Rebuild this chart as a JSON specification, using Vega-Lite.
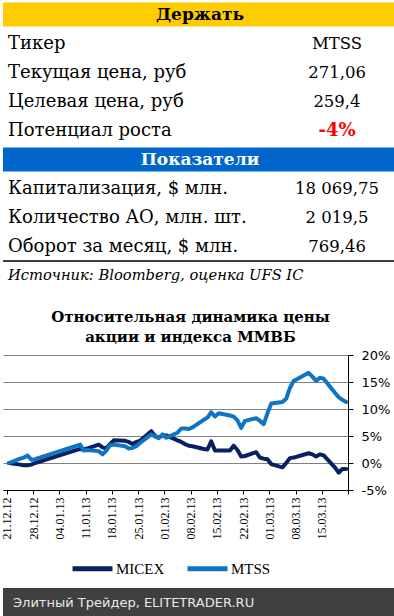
{
  "$schema": "https://vega.github.io/schema/vega-lite/v6.json",
  "padding": 0,
  "spacing": 9,
  "autosize": {"type": "pad"},
  "background": "white",
  "config": {"view": {"stroke": null}},
  "resolve": {"scale": {"color": "independent", "x": "independent", "y": "independent"}, "legend": {"color": "independent"}},
  "datasets": {
    "table": [
      {"row": 0, "label": "Держать", "kind": "header"},
      {"row": 1, "label": "Тикер", "value": "MTSS", "kind": "item"},
      {"row": 2, "label": "Текущая цена, руб", "value": "271,06", "kind": "item"},
      {"row": 3, "label": "Целевая цена, руб", "value": "259,4", "kind": "item"},
      {"row": 4, "label": "Потенциал роста", "value": "-4%", "kind": "item"},
      {"row": 5, "label": "Показатели", "kind": "header"},
      {"row": 6, "label": "Капитализация, $ млн.", "value": "18 069,75", "kind": "item"},
      {"row": 7, "label": "Количество АО, млн. шт.", "value": "2 019,5", "kind": "item"},
      {"row": 8, "label": "Оборот за месяц, $ млн.", "value": "769,46", "kind": "item"},
      {"row": 9, "label": "Источник: Bloomberg, оценка UFS IC", "kind": "note"}
    ],
    "series": [
      {"date": "2012-12-21T12:00", "series": "MICEX", "value": 0},
      {"date": "2012-12-24T12:00", "series": "MICEX", "value": -0.3},
      {"date": "2012-12-25T12:00", "series": "MICEX", "value": -0.4},
      {"date": "2012-12-26T12:00", "series": "MICEX", "value": -0.4},
      {"date": "2012-12-27T12:00", "series": "MICEX", "value": -0.3},
      {"date": "2012-12-28T12:00", "series": "MICEX", "value": 0.0},
      {"date": "2013-01-09T12:00", "series": "MICEX", "value": 2.6},
      {"date": "2013-01-10T12:00", "series": "MICEX", "value": 2.5},
      {"date": "2013-01-11T12:00", "series": "MICEX", "value": 2.7},
      {"date": "2013-01-14T12:00", "series": "MICEX", "value": 3.4},
      {"date": "2013-01-15T12:00", "series": "MICEX", "value": 2.9},
      {"date": "2013-01-16T12:00", "series": "MICEX", "value": 2.7},
      {"date": "2013-01-17T12:00", "series": "MICEX", "value": 3.5},
      {"date": "2013-01-18T12:00", "series": "MICEX", "value": 4.2},
      {"date": "2013-01-21T12:00", "series": "MICEX", "value": 4.1},
      {"date": "2013-01-22T12:00", "series": "MICEX", "value": 3.9},
      {"date": "2013-01-23T12:00", "series": "MICEX", "value": 3.5},
      {"date": "2013-01-24T12:00", "series": "MICEX", "value": 3.9},
      {"date": "2013-01-25T12:00", "series": "MICEX", "value": 4.1},
      {"date": "2013-01-28T12:00", "series": "MICEX", "value": 5.9},
      {"date": "2013-01-29T12:00", "series": "MICEX", "value": 5.0},
      {"date": "2013-01-30T12:00", "series": "MICEX", "value": 4.7},
      {"date": "2013-01-31T12:00", "series": "MICEX", "value": 5.1},
      {"date": "2013-02-01T12:00", "series": "MICEX", "value": 5.1},
      {"date": "2013-02-04T12:00", "series": "MICEX", "value": 4.2},
      {"date": "2013-02-05T12:00", "series": "MICEX", "value": 3.9},
      {"date": "2013-02-06T12:00", "series": "MICEX", "value": 3.5},
      {"date": "2013-02-07T12:00", "series": "MICEX", "value": 3.2},
      {"date": "2013-02-08T12:00", "series": "MICEX", "value": 3.1},
      {"date": "2013-02-11T12:00", "series": "MICEX", "value": 2.6},
      {"date": "2013-02-12T12:00", "series": "MICEX", "value": 2.5},
      {"date": "2013-02-13T12:00", "series": "MICEX", "value": 4.0},
      {"date": "2013-02-14T12:00", "series": "MICEX", "value": 2.3},
      {"date": "2013-02-15T12:00", "series": "MICEX", "value": 2.3},
      {"date": "2013-02-18T12:00", "series": "MICEX", "value": 2.3},
      {"date": "2013-02-19T12:00", "series": "MICEX", "value": 3.2},
      {"date": "2013-02-20T12:00", "series": "MICEX", "value": 2.4},
      {"date": "2013-02-21T12:00", "series": "MICEX", "value": 1.2},
      {"date": "2013-02-22T12:00", "series": "MICEX", "value": 1.3},
      {"date": "2013-02-25T12:00", "series": "MICEX", "value": 2.0},
      {"date": "2013-02-26T12:00", "series": "MICEX", "value": 1.0},
      {"date": "2013-02-27T12:00", "series": "MICEX", "value": 0.8},
      {"date": "2013-02-28T12:00", "series": "MICEX", "value": 0.7},
      {"date": "2013-03-01T12:00", "series": "MICEX", "value": -0.2},
      {"date": "2013-03-04T12:00", "series": "MICEX", "value": -0.8},
      {"date": "2013-03-05T12:00", "series": "MICEX", "value": 0.0},
      {"date": "2013-03-06T12:00", "series": "MICEX", "value": 0.9},
      {"date": "2013-03-07T12:00", "series": "MICEX", "value": 1.0},
      {"date": "2013-03-11T12:00", "series": "MICEX", "value": 1.8},
      {"date": "2013-03-12T12:00", "series": "MICEX", "value": 1.6},
      {"date": "2013-03-13T12:00", "series": "MICEX", "value": 1.2},
      {"date": "2013-03-14T12:00", "series": "MICEX", "value": 1.6},
      {"date": "2013-03-15T12:00", "series": "MICEX", "value": 1.4},
      {"date": "2013-03-18T12:00", "series": "MICEX", "value": -0.8},
      {"date": "2013-03-19T12:00", "series": "MICEX", "value": -1.8},
      {"date": "2013-03-20T12:00", "series": "MICEX", "value": -1.1},
      {"date": "2013-03-21T12:00", "series": "MICEX", "value": -1.1},
      {"date": "2012-12-21T12:00", "series": "MTSS", "value": 0},
      {"date": "2012-12-24T12:00", "series": "MTSS", "value": 0.8},
      {"date": "2012-12-25T12:00", "series": "MTSS", "value": 1.0},
      {"date": "2012-12-26T12:00", "series": "MTSS", "value": 1.4},
      {"date": "2012-12-27T12:00", "series": "MTSS", "value": 0.6},
      {"date": "2012-12-28T12:00", "series": "MTSS", "value": 0.7},
      {"date": "2013-01-09T12:00", "series": "MTSS", "value": 3.4},
      {"date": "2013-01-10T12:00", "series": "MTSS", "value": 2.3},
      {"date": "2013-01-11T12:00", "series": "MTSS", "value": 2.4},
      {"date": "2013-01-14T12:00", "series": "MTSS", "value": 2.2},
      {"date": "2013-01-15T12:00", "series": "MTSS", "value": 1.6},
      {"date": "2013-01-16T12:00", "series": "MTSS", "value": 2.3},
      {"date": "2013-01-17T12:00", "series": "MTSS", "value": 3.3},
      {"date": "2013-01-18T12:00", "series": "MTSS", "value": 3.4},
      {"date": "2013-01-21T12:00", "series": "MTSS", "value": 3.1},
      {"date": "2013-01-22T12:00", "series": "MTSS", "value": 2.7},
      {"date": "2013-01-23T12:00", "series": "MTSS", "value": 2.8},
      {"date": "2013-01-24T12:00", "series": "MTSS", "value": 3.1},
      {"date": "2013-01-25T12:00", "series": "MTSS", "value": 3.7},
      {"date": "2013-01-28T12:00", "series": "MTSS", "value": 5.3},
      {"date": "2013-01-29T12:00", "series": "MTSS", "value": 4.9},
      {"date": "2013-01-30T12:00", "series": "MTSS", "value": 4.6},
      {"date": "2013-01-31T12:00", "series": "MTSS", "value": 5.3},
      {"date": "2013-02-01T12:00", "series": "MTSS", "value": 4.7},
      {"date": "2013-02-04T12:00", "series": "MTSS", "value": 5.6},
      {"date": "2013-02-05T12:00", "series": "MTSS", "value": 6.4},
      {"date": "2013-02-06T12:00", "series": "MTSS", "value": 6.4},
      {"date": "2013-02-07T12:00", "series": "MTSS", "value": 6.3},
      {"date": "2013-02-08T12:00", "series": "MTSS", "value": 6.6},
      {"date": "2013-02-11T12:00", "series": "MTSS", "value": 8.0},
      {"date": "2013-02-12T12:00", "series": "MTSS", "value": 8.4},
      {"date": "2013-02-13T12:00", "series": "MTSS", "value": 9.4},
      {"date": "2013-02-14T12:00", "series": "MTSS", "value": 8.6},
      {"date": "2013-02-15T12:00", "series": "MTSS", "value": 9.2},
      {"date": "2013-02-18T12:00", "series": "MTSS", "value": 8.8},
      {"date": "2013-02-19T12:00", "series": "MTSS", "value": 8.6},
      {"date": "2013-02-20T12:00", "series": "MTSS", "value": 7.9},
      {"date": "2013-02-21T12:00", "series": "MTSS", "value": 6.5},
      {"date": "2013-02-22T12:00", "series": "MTSS", "value": 7.8},
      {"date": "2013-02-25T12:00", "series": "MTSS", "value": 8.3},
      {"date": "2013-02-26T12:00", "series": "MTSS", "value": 7.8},
      {"date": "2013-02-27T12:00", "series": "MTSS", "value": 7.2},
      {"date": "2013-02-28T12:00", "series": "MTSS", "value": 9.2},
      {"date": "2013-03-01T12:00", "series": "MTSS", "value": 11.0},
      {"date": "2013-03-04T12:00", "series": "MTSS", "value": 11.3},
      {"date": "2013-03-05T12:00", "series": "MTSS", "value": 11.9},
      {"date": "2013-03-06T12:00", "series": "MTSS", "value": 13.9},
      {"date": "2013-03-07T12:00", "series": "MTSS", "value": 15.2},
      {"date": "2013-03-11T12:00", "series": "MTSS", "value": 16.7},
      {"date": "2013-03-12T12:00", "series": "MTSS", "value": 16.0},
      {"date": "2013-03-13T12:00", "series": "MTSS", "value": 15.2},
      {"date": "2013-03-14T12:00", "series": "MTSS", "value": 15.8},
      {"date": "2013-03-15T12:00", "series": "MTSS", "value": 15.6},
      {"date": "2013-03-18T12:00", "series": "MTSS", "value": 13.0},
      {"date": "2013-03-19T12:00", "series": "MTSS", "value": 12.2},
      {"date": "2013-03-20T12:00", "series": "MTSS", "value": 11.7},
      {"date": "2013-03-21T12:00", "series": "MTSS", "value": 11.3}
    ],
    "footer": [{"label": "Элитный Трейдер, ELITETRADER.RU"}]
  },
  "vconcat": [
    {
      "width": 394,
      "height": 301,
      "data": {"name": "table"},
      "encoding": {
        "y": {"field": "row", "type": "ordinal", "axis": null,
              "scale": {"domain": [0,1,2,3,4,5,6,7,8,9], "range": [0, 290], "paddingInner": 0, "paddingOuter": 0}}
      },
      "layer": [
        {
          "transform": [{"filter": "datum.kind == 'header'"}],
          "mark": {"type": "rect", "height": {"band": 0.83}},
          "encoding": {
            "color": {"field": "label", "type": "nominal", "legend": null,
                      "scale": {"domain": ["Держать", "Показатели"], "range": ["#FFCC00", "#0066CC"]}}
          }
        },
        {
          "transform": [{"filter": "datum.kind == 'header'"}],
          "mark": {"type": "text", "font": "DejaVu Serif", "fontSize": 17, "fontWeight": "bold", "align": "center", "baseline": "middle"},
          "encoding": {
            "text": {"field": "label"},
            "color": {"condition": {"test": "datum.label == 'Показатели'", "value": "#ffffff"}, "value": "#000000"}
          }
        },
        {
          "transform": [{"filter": "datum.kind == 'item'"}],
          "mark": {"type": "text", "font": "DejaVu Serif", "fontSize": 18, "align": "left", "baseline": "middle", "color": "#000000"},
          "encoding": {
            "x": {"datum": "label", "type": "nominal", "axis": null,
                  "scale": {"type": "point", "domain": ["label", "value"], "range": [5, 334], "padding": 0}},
            "text": {"field": "label"}
          }
        },
        {
          "transform": [{"filter": "datum.kind == 'item' && datum.label != 'Потенциал роста'"}],
          "mark": {"type": "text", "font": "DejaVu Serif", "fontSize": 16.5, "align": "center", "baseline": "middle", "color": "#000000"},
          "encoding": {
            "x": {"datum": "value", "type": "nominal"},
            "text": {"field": "value"}
          }
        },
        {
          "transform": [{"filter": "datum.label == 'Потенциал роста'"}],
          "mark": {"type": "text", "font": "DejaVu Serif", "fontSize": 18, "fontWeight": "bold", "align": "center", "baseline": "middle", "color": "#FF0000"},
          "encoding": {
            "x": {"datum": "value", "type": "nominal"},
            "text": {"field": "value"}
          }
        },
        {
          "transform": [{"filter": "datum.kind == 'note'"}],
          "mark": {"type": "text", "font": "DejaVu Serif", "fontSize": 14.7, "fontStyle": "italic", "align": "left", "baseline": "middle", "color": "#000000"},
          "encoding": {
            "x": {"datum": "label", "type": "nominal"},
            "text": {"field": "label"}
          }
        },
        {
          "transform": [{"filter": "datum.kind == 'note'"}],
          "mark": {"type": "rule", "color": "#000000", "strokeWidth": 1.5},
          "encoding": {
            "y": {"field": "row", "type": "ordinal", "bandPosition": 0}
          }
        }
      ]
    },
    {
      "width": 345,
      "height": 135,
      "title": {
        "text": ["Относительная динамика цены", "акции и индекса ММВБ"],
        "font": "DejaVu Serif", "fontSize": 15, "fontWeight": "bold", "color": "#000000",
        "anchor": "middle", "frame": "group", "dx": 15, "lineHeight": 20, "offset": 4
      },
      "data": {"name": "series"},
      "mark": {"type": "line", "strokeWidth": 4, "strokeCap": "round", "strokeJoin": "round"},
      "encoding": {
        "x": {
          "field": "date", "type": "temporal",
          "scale": {"domain": [{"year": 2012, "month": 12, "date": 19, "hours": 22, "minutes": 24},
                               {"year": 2013, "month": 3, "date": 22}]},
          "axis": {
            "title": null,
            "values": [
              {"year": 2012, "month": 12, "date": 21},
              {"year": 2012, "month": 12, "date": 28},
              {"year": 2013, "month": 1, "date": 4},
              {"year": 2013, "month": 1, "date": 11},
              {"year": 2013, "month": 1, "date": 18},
              {"year": 2013, "month": 1, "date": 25},
              {"year": 2013, "month": 2, "date": 1},
              {"year": 2013, "month": 2, "date": 8},
              {"year": 2013, "month": 2, "date": 15},
              {"year": 2013, "month": 2, "date": 22},
              {"year": 2013, "month": 3, "date": 1},
              {"year": 2013, "month": 3, "date": 8},
              {"year": 2013, "month": 3, "date": 15},
              {"year": 2013, "month": 3, "date": 22}
            ],
            "format": "%d.%m.%y",
            "labelExpr": "timeFormat(datum.value, '%d.%m') == '22.03' ? '' : datum.label",
            "labelAngle": 270,
            "labelFont": "Liberation Serif", "labelFontSize": 12, "labelColor": "#000000",
            "labelPadding": 3, "labelOverlap": false,
            "domainColor": "#000000", "tickColor": "#000000", "tickSize": 4,
            "grid": false
          }
        },
        "y": {
          "field": "value", "type": "quantitative",
          "scale": {"domain": [-5, 20], "nice": false, "zero": false},
          "axis": {
            "orient": "right", "title": null,
            "values": [-5, 0, 5, 10, 15, 20],
            "labelExpr": "datum.value + '%'",
            "labelFont": "DejaVu Sans", "labelFontSize": 13, "labelColor": "#000000",
            "labelPadding": 8,
            "domainColor": "#000000", "tickColor": "#000000", "tickSize": 5,
            "grid": true, "gridColor": "#808080", "gridWidth": 1
          }
        },
        "color": {
          "field": "series", "type": "nominal",
          "scale": {"domain": ["MICEX", "MTSS"], "range": ["#0A2160", "#0F74C4"]},
          "legend": {
            "orient": "none", "legendX": 67, "legendY": 191, "title": null, "direction": "horizontal",
            "symbolType": "stroke", "symbolStrokeWidth": 5, "symbolSize": 1600,
            "labelFont": "Liberation Serif", "labelFontSize": 15, "labelColor": "#000000",
            "labelOffset": 1, "columnPadding": 12, "padding": 0
          }
        }
      }
    },
    {
      "width": 394,
      "height": 29,
      "view": {"fill": "#404040", "stroke": null},
      "data": {"name": "footer"},
      "mark": {"type": "text", "font": "DejaVu Sans", "fontSize": 13, "align": "left", "baseline": "middle", "color": "#e8e8e8"},
      "encoding": {
        "x": {"field": "label", "type": "nominal", "axis": null,
              "scale": {"type": "point", "range": [10, 384], "padding": 0, "align": 0}},
        "text": {"field": "label"}
      }
    }
  ]
}
